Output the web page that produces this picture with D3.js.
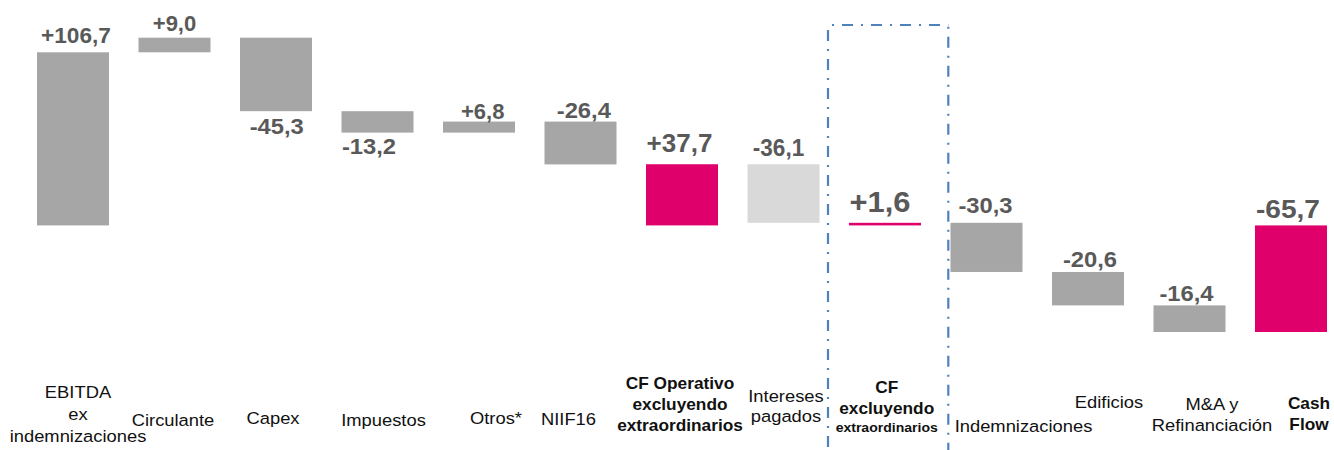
<!DOCTYPE html>
<html>
<head>
<meta charset="utf-8">
<script src="https://cdn.jsdelivr.net/npm/d3@7"></script>
<style>
  html, body { margin: 0; padding: 0; background: #fff; }
  svg { display: block; }
  text { font-family: "Liberation Sans", Arial, sans-serif; }
</style>
</head>
<body>
<svg id="chart" width="1334" height="450"></svg>
<script>
// ---- data ----
const categories = [
  "EBITDA\nex\nindemnizaciones", "Circulante", "Capex", "Impuestos", "Otros*", "NIIF16",
  "CF Operativo\nexcluyendo\nextraordinarios", "Intereses\npagados",
  "CF\nexcluyendo\nextraordinarios", "Indemnizaciones", "Edificios",
  "M&A y\nRefinanciación", "Cash\nFlow"
];
const values = [106.7, 9.0, -45.3, -13.2, 6.8, -26.4, 37.7, -36.1, 1.6, -30.3, -20.6, -16.4, -65.7];
const isTotal = [false, false, false, false, false, false, true, false, true, false, false, false, true];
const valueLabels = ["+106,7", "+9,0", "-45,3", "-13,2", "+6,8", "-26,4", "+37,7", "-36,1", "+1,6", "-30,3", "-20,6", "-16,4", "-65,7"];
const barKind = ["step", "step", "step", "step", "step", "step", "total", "light", "total", "step", "step", "step", "total"];
const boldCategory = [false, false, false, false, false, false, true, false, true, false, false, false, true];

// ---- styles ----
const colors = { step: "#A6A6A6", light: "#D9D9D9", total: "#E0006C" };
const valueColor = "#595959";
const boxColor = "#4F81BD";
// value label style: position, gap from bar, horizontal nudge, font size, horizontal stretch
const valueStyle = [
  { pos: "above", gap: 9,   dx: 3,    size: 22, sx: 1.03 },
  { pos: "above", gap: 7,   dx: 0,    size: 22, sx: 1.0 },
  { pos: "below", gap: 22.8,dx: 0.7,  size: 22, sx: 1.08 },
  { pos: "below", gap: 21.5,dx: -8.5, size: 22, sx: 1.08 },
  { pos: "above", gap: 2.5, dx: 3.7,  size: 22, sx: 1.0 },
  { pos: "above", gap: 3.3, dx: 3.3,  size: 22, sx: 1.08 },
  { pos: "above", gap: 12,  dx: -2.5, size: 26, sx: 1.0 },
  { pos: "above", gap: 8.5, dx: -5,   size: 23, sx: 0.98 },
  { pos: "above", gap: 11,  dx: -5,   size: 30, sx: 1.03 },
  { pos: "above", gap: 9.5, dx: -1,   size: 22, sx: 1.08 },
  { pos: "above", gap: 4.7, dx: 2,    size: 22, sx: 1.08 },
  { pos: "above", gap: 4.7, dx: -3,   size: 22, sx: 1.08 },
  { pos: "above", gap: 7,   dx: -3,   size: 26, sx: 1.08 }
];
// category label layout: horizontal nudge from band centre, baselines of lines, font sizes
const catStyle = [
  { dx: 5,    ys: [398.3, 420, 441.7], sizes: [17, 17, 17] },
  { dx: -1.5, ys: [426],   sizes: [17] },
  { dx: -3,   ys: [424.3], sizes: [17] },
  { dx: 6,    ys: [426],   sizes: [17] },
  { dx: 17,   ys: [424.3], sizes: [17] },
  { dx: -12,  ys: [425],   sizes: [17] },
  { dx: -2,   ys: [389, 410, 430.5], sizes: [16, 16, 16] },
  { dx: 2.5,  ys: [402.3, 421.5], sizes: [17, 17] },
  { dx: 1.7,  ys: [393.3, 414.3, 431.7], sizes: [16, 16, 13] },
  { dx: 37,   ys: [431.7], sizes: [17] },
  { dx: 21,   ys: [408.3], sizes: [17] },
  { dx: 22.5, ys: [410, 431], sizes: [17, 17] },
  { dx: 18,   ys: [409.3, 430], sizes: [16, 16] }
];
const textStretch = 1.08;

// ---- waterfall computation ----
let running = 0;
const bars = values.map((v, i) => {
  let y0, y1;
  if (isTotal[i]) { y0 = 0; y1 = v; running = v; }
  else { y0 = running; y1 = running + v; running = y1; }
  return { i, cat: categories[i], v, y0, y1, lo: Math.min(y0, y1), hi: Math.max(y0, y1) };
});

const svg = d3.select("#chart");

const x = d3.scaleBand()
  .domain(d3.range(categories.length))
  .range([37, 1327])
  .paddingInner(0.2906)
  .paddingOuter(0);

const y = d3.scaleLinear()
  .domain([d3.min(bars, d => d.lo), d3.max(bars, d => d.hi)])
  .range([332, 37.7]);

// ---- bars ----
svg.append("g").selectAll("rect").data(bars).join("rect")
  .attr("x", d => x(d.i))
  .attr("width", x.bandwidth())
  .attr("y", d => y(d.hi))
  .attr("height", d => Math.max(1.5, y(d.lo) - y(d.hi)))
  .attr("fill", d => colors[barKind[d.i]]);

// ---- value labels ----
svg.append("g").selectAll("text").data(bars).join("text")
  .attr("transform", d => {
    const s = valueStyle[d.i];
    const cx = x(d.i) + x.bandwidth() / 2 + s.dx;
    const by = s.pos === "above" ? y(d.hi) - s.gap : y(d.lo) + s.gap;
    return `translate(${cx},${by}) scale(${s.sx},1)`;
  })
  .attr("text-anchor", "middle")
  .attr("font-weight", "bold")
  .attr("font-size", d => valueStyle[d.i].size)
  .attr("fill", valueColor)
  .text(d => valueLabels[d.i]);

// ---- dash-dot highlight box around the CF excluyendo extraordinarios bar ----
const hi = 8;
const bx0 = x(hi) - 21, bx1 = x(hi) + x.bandwidth() + 27.3, by0 = 25, by1 = 462;
const box = svg.append("g")
  .attr("stroke", boxColor).attr("stroke-width", 2.2).attr("fill", "none")
  .attr("stroke-dasharray", "11,8,2,8");
box.append("line").attr("x1", bx0).attr("y1", by0).attr("x2", bx1).attr("y2", by0).attr("stroke-dashoffset", 15);
box.append("line").attr("x1", bx0).attr("y1", by0).attr("x2", bx0).attr("y2", by1).attr("stroke-dashoffset", 24);
box.append("line").attr("x1", bx1).attr("y1", by0).attr("x2", bx1).attr("y2", by1).attr("stroke-dashoffset", 17.3);

// ---- category labels ----
const cg = svg.append("g");
bars.forEach(d => {
  const s = catStyle[d.i];
  const cx = x(d.i) + x.bandwidth() / 2 + s.dx;
  d.cat.split("\n").forEach((line, k) => {
    cg.append("text")
      .attr("transform", `translate(${cx},${s.ys[k]}) scale(${textStretch},1)`)
      .attr("text-anchor", "middle")
      .attr("font-size", s.sizes[k])
      .attr("font-weight", boldCategory[d.i] ? "bold" : "normal")
      .attr("fill", "#111")
      .text(line);
  });
});
</script>
</body>
</html>
